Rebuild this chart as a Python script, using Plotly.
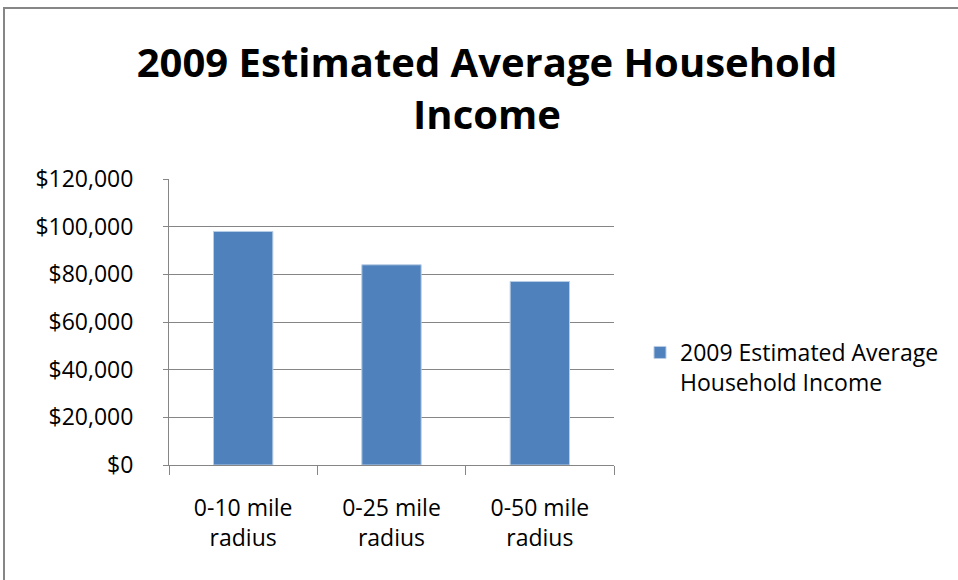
import plotly.graph_objects as go

categories = ["0-10 mile<br>radius", "0-25 mile<br>radius", "0-50 mile<br>radius"]
income_values = [98000, 84000, 77000]
series_name = "2009 Estimated Average<br>Household Income"
title_text = "2009 Estimated Average Household<br>Income"
y_tick_values = [0, 20000, 40000, 60000, 80000, 100000, 120000]
y_tick_labels = ["$0", "$20,000", "$40,000", "$60,000", "$80,000", "$100,000", "$120,000"]

FONT = "Open Sans"
GRAY = "#868686"

fig = go.Figure()
fig.add_trace(go.Bar(
    x=categories,
    y=income_values,
    name=series_name,
    marker=dict(color="#4F81BD", line=dict(color="#B9CDE5", width=1)),
    showlegend=True,
))

# plot area in pixels
L, R, T, B = 169, 344, 179, 115
W = 958 - L - R
H = 580 - T - B

def px_x(px):
    return (px - L) / W

def px_y(py):
    return (580 - B - py) / H

fig.update_layout(
    width=958, height=580,
    margin=dict(l=L, r=R, t=T, b=B),
    paper_bgcolor="white", plot_bgcolor="white",
    font=dict(family=FONT, size=23, color="#000000"),
    title=dict(text="<b>" + title_text + "</b>", x=px_x(487), xref="paper", xanchor="center",
               y=1 - 77 / 580, yanchor="middle", yref="container",
               font=dict(family=FONT, size=40, color="#000000")),
    bargap=0.6,
    showlegend=True,
    legend=dict(x=px_x(640), xanchor="left", y=px_y(331), yanchor="top",
                valign="top", itemwidth=30, font=dict(family=FONT, size=23, color="#000000"),
                bgcolor="rgba(0,0,0,0)", tracegroupgap=0),
    shapes=[dict(type="rect", xref="paper", yref="paper",
                 x0=px_x(4), x1=px_x(962), y0=px_y(584), y1=px_y(8),
                 line=dict(color=GRAY, width=2), fillcolor="rgba(0,0,0,0)", layer="below")],
)

fig.update_yaxes(
    range=[0, 120000], tickvals=y_tick_values, ticktext=y_tick_labels,
    showgrid=True, gridcolor=GRAY, gridwidth=1,
    showline=True, linecolor=GRAY, linewidth=1,
    ticks="outside", ticklen=5, tickcolor=GRAY, ticklabelstandoff=25,
    zeroline=False, fixedrange=True,
)
fig.update_xaxes(
    type="category", showline=True, linecolor=GRAY, linewidth=1,
    ticks="outside", tickson="boundaries", ticklen=9, tickcolor=GRAY,
    ticklabelstandoff=22,
    showgrid=False, mirror=False, fixedrange=True,
)

fig.write_html("out.html", config={"displayModeBar": False},
               post_script="document.body.style.margin='0';document.body.style.overflow='hidden';")
